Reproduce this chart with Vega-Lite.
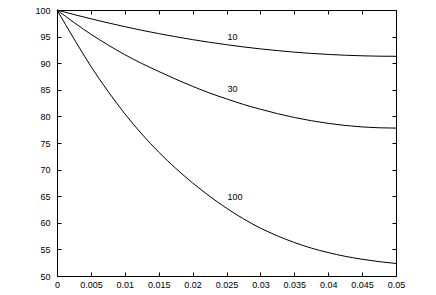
{
  "$schema": "https://vega.github.io/schema/vega-lite/v6.json",
  "width": 339,
  "height": 266,
  "autosize": {"type": "none"},
  "padding": {"left": 57, "top": 10, "right": 40, "bottom": 19},
  "background": "white",
  "config": {
    "view": {"stroke": "black", "strokeWidth": 1},
    "axis": {
      "domain": false,
      "grid": false,
      "labelFont": "Liberation Sans",
      "labelFontSize": 9,
      "labelColor": "black",
      "tickColor": "black",
      "tickSize": -4,
      "tickWidth": 1
    }
  },
  "datasets": {
    "curves": [
      {"c": "10", "x": 0, "y": 100}, {"c": "10", "x": 0.0025, "y": 99.15}, {"c": "10", "x": 0.005, "y": 98.35}, {"c": "10", "x": 0.0075, "y": 97.59}, {"c": "10", "x": 0.01, "y": 96.87}, {"c": "10", "x": 0.0125, "y": 96.19}, {"c": "10", "x": 0.015, "y": 95.56}, {"c": "10", "x": 0.0175, "y": 94.98}, {"c": "10", "x": 0.02, "y": 94.43}, {"c": "10", "x": 0.0225, "y": 93.93}, {"c": "10", "x": 0.025, "y": 93.48}, {"c": "10", "x": 0.0275, "y": 93.06}, {"c": "10", "x": 0.03, "y": 92.69}, {"c": "10", "x": 0.0325, "y": 92.37}, {"c": "10", "x": 0.035, "y": 92.08}, {"c": "10", "x": 0.0375, "y": 91.84}, {"c": "10", "x": 0.04, "y": 91.65}, {"c": "10", "x": 0.0425, "y": 91.5}, {"c": "10", "x": 0.045, "y": 91.39}, {"c": "10", "x": 0.0475, "y": 91.32}, {"c": "10", "x": 0.05, "y": 91.3},
      {"c": "30", "x": 0, "y": 100}, {"c": "30", "x": 0.0025, "y": 97.65}, {"c": "30", "x": 0.005, "y": 95.45}, {"c": "30", "x": 0.0075, "y": 93.45}, {"c": "30", "x": 0.01, "y": 91.6}, {"c": "30", "x": 0.0125, "y": 89.95}, {"c": "30", "x": 0.015, "y": 88.45}, {"c": "30", "x": 0.0175, "y": 87.0}, {"c": "30", "x": 0.02, "y": 85.65}, {"c": "30", "x": 0.0225, "y": 84.4}, {"c": "30", "x": 0.025, "y": 83.3}, {"c": "30", "x": 0.0275, "y": 82.25}, {"c": "30", "x": 0.03, "y": 81.35}, {"c": "30", "x": 0.0325, "y": 80.52}, {"c": "30", "x": 0.035, "y": 79.8}, {"c": "30", "x": 0.0375, "y": 79.19}, {"c": "30", "x": 0.04, "y": 78.69}, {"c": "30", "x": 0.0425, "y": 78.3}, {"c": "30", "x": 0.045, "y": 78.02}, {"c": "30", "x": 0.0475, "y": 77.86}, {"c": "30", "x": 0.05, "y": 77.8},
      {"c": "100", "x": 0, "y": 100}, {"c": "100", "x": 0.0025, "y": 94.6}, {"c": "100", "x": 0.005, "y": 89.4}, {"c": "100", "x": 0.0075, "y": 84.75}, {"c": "100", "x": 0.01, "y": 80.5}, {"c": "100", "x": 0.0125, "y": 76.7}, {"c": "100", "x": 0.015, "y": 73.3}, {"c": "100", "x": 0.0175, "y": 70.25}, {"c": "100", "x": 0.02, "y": 67.5}, {"c": "100", "x": 0.0225, "y": 65.0}, {"c": "100", "x": 0.025, "y": 62.75}, {"c": "100", "x": 0.0275, "y": 60.75}, {"c": "100", "x": 0.03, "y": 59.0}, {"c": "100", "x": 0.0325, "y": 57.55}, {"c": "100", "x": 0.035, "y": 56.3}, {"c": "100", "x": 0.0375, "y": 55.25}, {"c": "100", "x": 0.04, "y": 54.4}, {"c": "100", "x": 0.0425, "y": 53.7}, {"c": "100", "x": 0.045, "y": 53.15}, {"c": "100", "x": 0.0475, "y": 52.7}, {"c": "100", "x": 0.05, "y": 52.35}
    ],
    "labels": [
      {"x": 0.025, "y": 95.0, "label": "10"},
      {"x": 0.025, "y": 85.1, "label": "30"},
      {"x": 0.025, "y": 64.9, "label": "100"}
    ]
  },
  "layer": [
    {
      "data": {"name": "curves"},
      "mark": {"type": "line", "color": "black", "strokeWidth": 1, "interpolate": "monotone"},
      "encoding": {
        "x": {
          "field": "x", "type": "quantitative",
          "scale": {"domain": [0, 0.05], "nice": false},
          "axis": {"orient": "bottom", "title": null, "values": [0, 0.005, 0.01, 0.015, 0.02, 0.025, 0.03, 0.035, 0.04, 0.045, 0.05], "format": "~g", "labelPadding": 8, "labelFlush": false, "labelOverlap": false}
        },
        "y": {
          "field": "y", "type": "quantitative",
          "scale": {"domain": [50, 100], "nice": false, "zero": false},
          "axis": {"orient": "left", "title": null, "values": [50, 55, 60, 65, 70, 75, 80, 85, 90, 95, 100], "format": "d", "labelPadding": 11, "labelOverlap": false}
        },
        "detail": {"field": "c"}
      }
    },
    {
      "data": {"name": "curves"},
      "mark": {"type": "line", "opacity": 0},
      "encoding": {
        "x": {
          "field": "x", "type": "quantitative",
          "axis": {"orient": "top", "title": null, "labels": false, "values": [0, 0.005, 0.01, 0.015, 0.02, 0.025, 0.03, 0.035, 0.04, 0.045, 0.05]}
        },
        "y": {
          "field": "y", "type": "quantitative",
          "axis": {"orient": "right", "title": null, "labels": false, "values": [50, 55, 60, 65, 70, 75, 80, 85, 90, 95, 100]}
        },
        "detail": {"field": "c"}
      }
    },
    {
      "data": {"name": "labels"},
      "mark": {"type": "text", "align": "left", "baseline": "middle", "font": "Liberation Sans", "fontSize": 9, "color": "black", "dx": 1},
      "encoding": {
        "x": {"field": "x", "type": "quantitative", "axis": null},
        "y": {"field": "y", "type": "quantitative", "axis": null},
        "text": {"field": "label"}
      }
    }
  ],
  "resolve": {"axis": {"x": "independent", "y": "independent"}}
}
